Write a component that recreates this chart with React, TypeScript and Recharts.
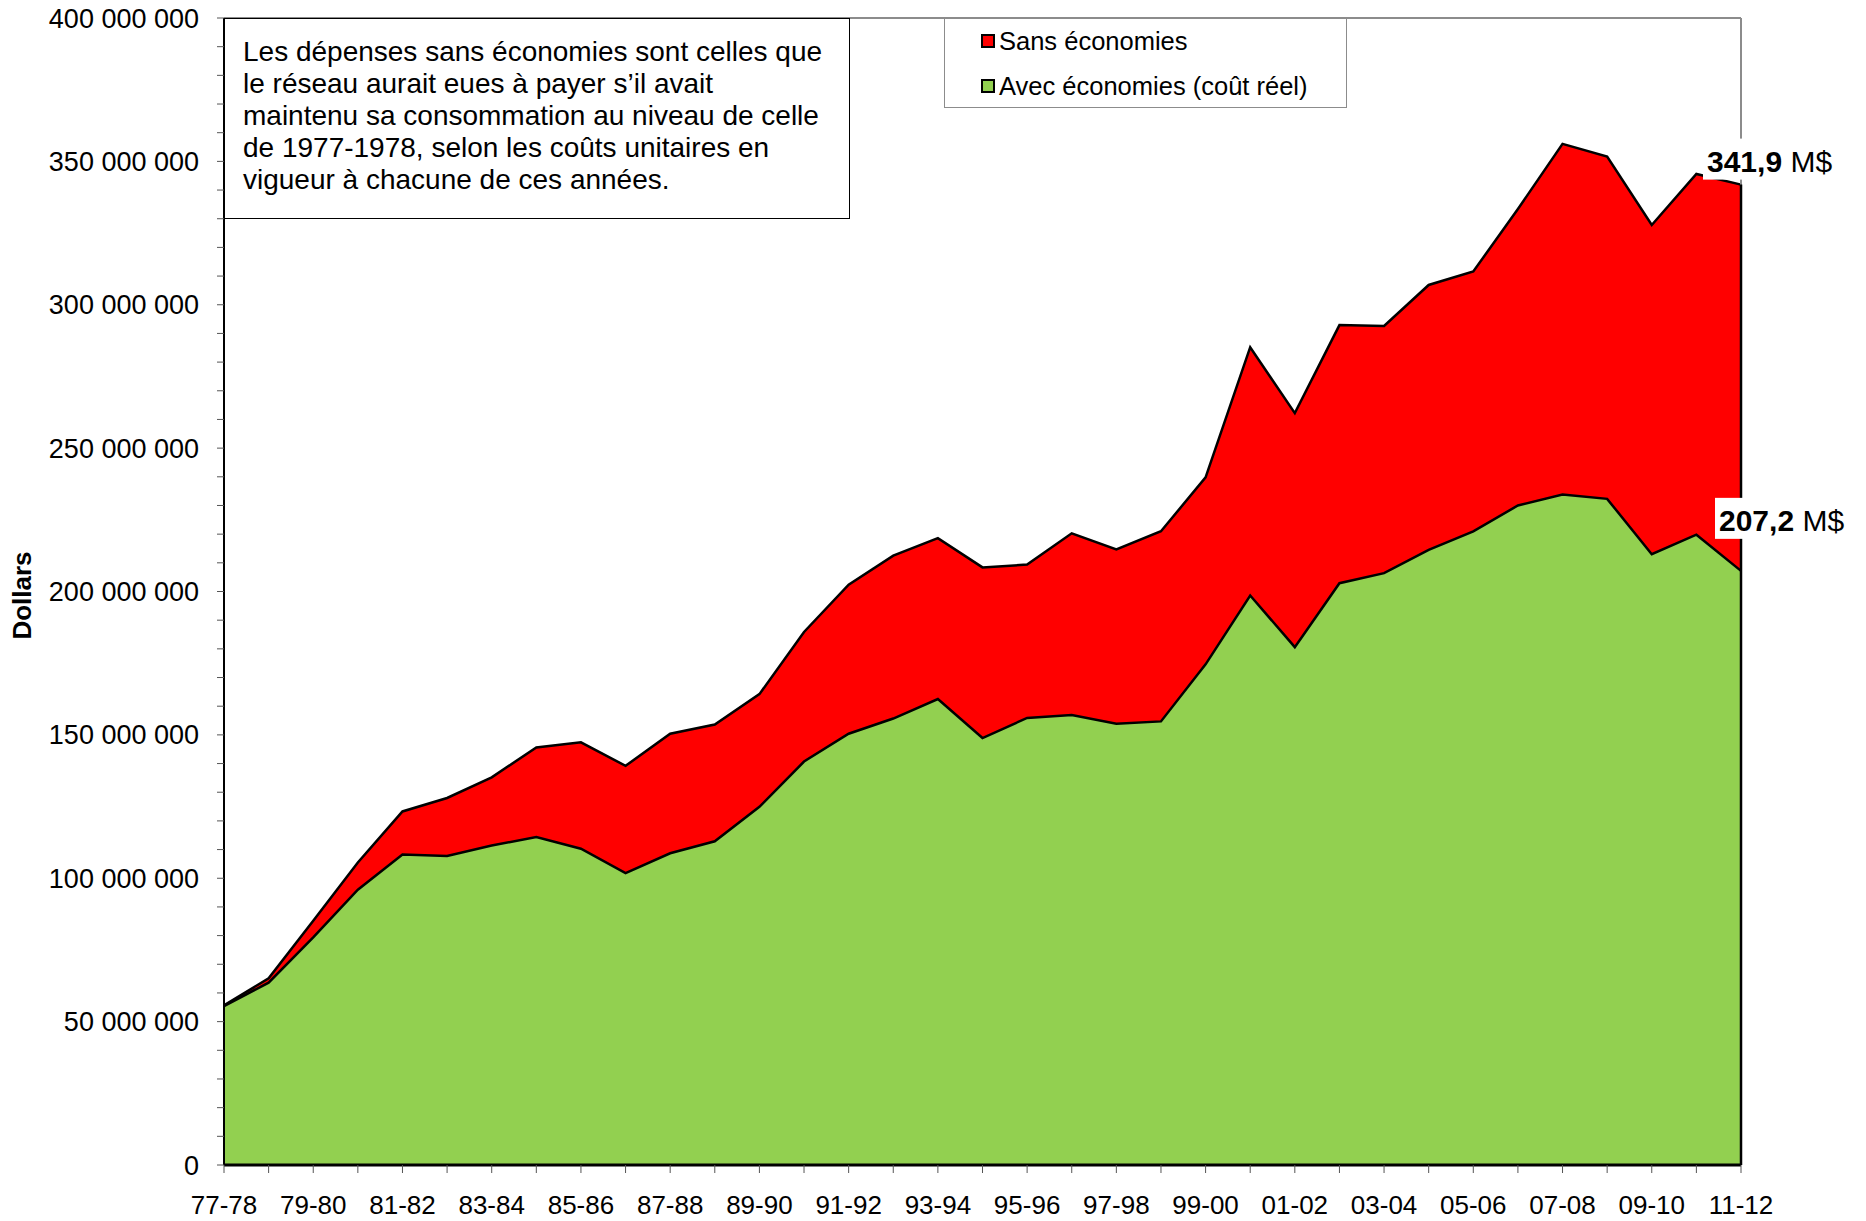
import React from "react";
import {
  AreaChart,
  Area,
  XAxis,
  YAxis,
  Legend,
  ReferenceLine,
  LabelList,
} from "recharts";

// années financières
const years = [
  "77-78", "78-79", "79-80", "80-81", "81-82", "82-83", "83-84", "84-85", "85-86", "86-87",
  "87-88", "88-89", "89-90", "90-91", "91-92", "92-93", "93-94", "94-95", "95-96", "96-97",
  "97-98", "98-99", "99-00", "00-01", "01-02", "02-03", "03-04", "04-05", "05-06", "06-07",
  "07-08", "08-09", "09-10", "10-11", "11-12",
];

// millions de dollars
const sansEconomies = [
  55.7, 65.1, 85.2, 105.5, 123.3, 128.0, 135.2, 145.6, 147.4, 139.2,
  150.4, 153.6, 164.2, 185.9, 202.4, 212.5, 218.6, 208.4, 209.4, 220.3,
  214.7, 221.0, 239.8, 285.2, 262.2, 292.9, 292.6, 306.9, 311.6, 333.4,
  356.1, 351.7, 327.8, 345.6, 341.9,
];

const avecEconomies = [
  55.4, 63.6, 79.4, 96.0, 108.3, 107.8, 111.4, 114.4, 110.3, 101.8,
  108.7, 112.9, 124.9, 140.7, 150.4, 155.7, 162.5, 148.9, 155.9, 156.9,
  153.9, 154.7, 174.6, 198.6, 180.6, 202.9, 206.4, 214.5, 221.0, 230.0,
  233.8, 232.3, 213.0, 219.8, 207.2,
];

const yTicks = [
  0, 10, 20, 30, 40, 50, 60, 70, 80, 90, 100, 110, 120, 130, 140, 150, 160, 170, 180, 190,
  200, 210, 220, 230, 240, 250, 260, 270, 280, 290, 300, 310, 320, 330, 340, 350, 360, 370,
  380, 390, 400,
];

const noteLines = [
  "Les dépenses sans économies sont celles que",
  "le réseau aurait eues à payer s’il avait",
  "maintenu sa consommation au niveau de celle",
  "de 1977-1978, selon les coûts unitaires en",
  "vigueur à chacune de ces années.",
];

const data = years.map((year, i) => ({
  year,
  sans: sansEconomies[i],
  avec: avecEconomies[i],
}));

const FONT = '"Liberation Sans", Arial, Helvetica, sans-serif';
const FILLS: Record<string, string> = { sans: "#FF0000", avec: "#92D050" };
const LEGEND_ORDER = ["sans", "avec"];
const LAST = years.length - 1;
const TOP = 16;

const fmtDollars = (v: number) =>
  v % 50 === 0 ? String(v * 1000000).replace(/\B(?=(\d{3})+(?!\d))/g, " ") : "";

const fmtM = (v: number) => v.toFixed(1).replace(".", ",");

// étiquette finale (ex. "341,9 M$") sur fond blanc
const endLabel = (dx: number, dy: number, w: number) => (props: any) => {
  const { x, y, value, index } = props;
  if (index !== LAST) return null;
  const left = x + dx;
  const top = y + dy;
  return (
    <g>
      <rect x={left} y={top} width={w} height={41} fill="#fff" />
      <text x={left + 4} y={top + 33} fontSize={30} fontFamily={FONT} fill="#000">
        <tspan fontWeight="bold">{fmtM(value)}</tspan>
        <tspan> M$</tspan>
      </text>
    </g>
  );
};

const YTitle = (props: any) => {
  const vb = props.viewBox || {};
  const cx = 20;
  const cy = vb.height ? vb.y + vb.height / 2 + 4 : 594;
  return (
    <text
      x={cx}
      y={cy}
      transform={`rotate(-90 ${cx} ${cy})`}
      textAnchor="middle"
      dominantBaseline="central"
      fontSize={26}
      fontWeight="bold"
      fontFamily={FONT}
      fill="#000"
    >
      Dollars
    </text>
  );
};

const LegendBox = (props: any) => {
  const items = [...(props.payload || [])].sort(
    (a: any, b: any) => LEGEND_ORDER.indexOf(a.dataKey) - LEGEND_ORDER.indexOf(b.dataKey)
  );
  return (
    <div
      style={{
        position: "relative",
        width: 403,
        height: 90,
        border: "1px solid #8c8c8c",
        background: "#fff",
        boxSizing: "border-box",
        fontFamily: FONT,
        fontSize: 25.5,
      }}
    >
      {items.map((entry: any, i: number) => (
        <div
          key={entry.value}
          style={{ position: "absolute", left: 36, top: 6 + i * 45, height: 32, display: "flex", alignItems: "center" }}
        >
          <span
            style={{
              display: "inline-block",
              width: 14,
              height: 14,
              border: "2px solid #000",
              boxSizing: "border-box",
              background: FILLS[entry.dataKey] || entry.color,
              marginRight: 4,
            }}
          />
          <span>{entry.value}</span>
        </div>
      ))}
    </div>
  );
};

export default function App() {
  return (
    <div style={{ position: "relative", width: 1850, height: 1219, margin: "-6px 0 0 -6px" }}>
      <AreaChart
        width={1856}
        height={1219}
        data={data}
        margin={{ top: TOP, right: 117, bottom: 0, left: 0 }}
      >
        <XAxis
          dataKey="year"
          height={56}
          interval={0}
          tickFormatter={(v: string, i: number) => (i % 2 === 0 ? v : "")}
          tick={{ fontSize: 26, fill: "#000", fontFamily: FONT }}
          tickSize={8}
          tickMargin={23}
          axisLine={{ stroke: "#000", strokeWidth: 3 }}
          tickLine={{ stroke: "#555" }}
        />
        <YAxis
          width={222}
          domain={[0, 400]}
          ticks={yTicks}
          interval={0}
          tickFormatter={fmtDollars}
          tick={{ fontSize: 27, fill: "#000", fontFamily: FONT }}
          tickSize={7}
          tickMargin={18}
          axisLine={{ stroke: "#000", strokeWidth: 2 }}
          tickLine={{ stroke: "#555" }}
          label={{ content: YTitle }}
        />
        <ReferenceLine y={400} stroke="#8c8c8c" strokeWidth={2} />
        <ReferenceLine x={years[LAST]} stroke="#8c8c8c" strokeWidth={2} />
        <Area
          type="linear"
          dataKey="sans"
          name="Sans économies"
          fill={FILLS.sans}
          fillOpacity={1}
          stroke="#000"
          strokeWidth={2.5}
          dot={false}
          activeDot={false}
          isAnimationActive={false}
        >
          <LabelList dataKey="sans" content={endLabel(-38, -46, 140)} />
        </Area>
        <Area
          type="linear"
          dataKey="avec"
          name="Avec économies (coût réel)"
          fill={FILLS.avec}
          fillOpacity={1}
          stroke="#000"
          strokeWidth={2.5}
          dot={false}
          activeDot={false}
          isAnimationActive={false}
        >
          <LabelList dataKey="avec" content={endLabel(-26, -73, 140)} />
        </Area>
        <ReferenceLine
          segment={[
            { x: years[LAST], y: 0 },
            { x: years[LAST], y: sansEconomies[LAST] },
          ]}
          stroke="#000"
          strokeWidth={2.5}
        />
        <Legend
          layout="horizontal"
          verticalAlign="middle"
          align="center"
          content={LegendBox}
          wrapperStyle={{ left: 942, top: TOP, width: 403, height: 90 }}
        />
      </AreaChart>
      <div
        style={{
          position: "absolute",
          left: 222,
          top: TOP,
          width: 626,
          height: 201,
          boxSizing: "border-box",
          border: "1.5px solid #000",
          background: "#fff",
          padding: "17px 0 0 18px",
          fontFamily: FONT,
          fontSize: 28,
          lineHeight: "32px",
          color: "#000",
        }}
      >
        {noteLines.map((l) => (
          <div key={l} style={{ whiteSpace: "nowrap" }}>{l}</div>
        ))}
      </div>
    </div>
  );
}
